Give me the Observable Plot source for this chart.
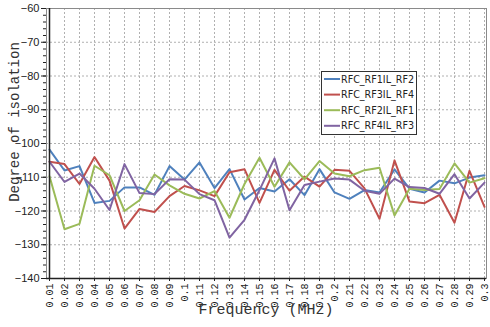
<!DOCTYPE html>
<html>
<head>
<meta charset="utf-8">
<script src="https://cdn.jsdelivr.net/npm/d3@7"></script>
<script src="https://cdn.jsdelivr.net/npm/@observablehq/plot@0.6"></script>
<style>
  html, body { margin: 0; padding: 0; background: #fff; }
  #chart { position: relative; width: 490px; height: 327px; }
</style>
</head>
<body>
<div id="chart"></div>
<script>
const freqLabels = ["0.01","0.02","0.03","0.04","0.05","0.06","0.07","0.08","0.09","0.1",
  "0.11","0.12","0.13","0.14","0.15","0.16","0.17","0.18","0.19","0.2",
  "0.21","0.22","0.23","0.24","0.25","0.26","0.27","0.28","0.29","0.3"];

const seriesNames = ["RFC_RF1IL_RF2", "RFC_RF3IL_RF4", "RFC_RF2IL_RF1", "RFC_RF4IL_RF3"];
const seriesColors = ["#4f81bd", "#c0504d", "#9bbb59", "#8064a2"];

const rf1_rf2 = [-101.8, -108, -106.7, -117.6, -117, -113, -113, -115.2, -106.7, -110.7,
  -105.6, -113.2, -107.6, -116.6, -113.2, -114.2, -110.6, -115.3, -107.6, -114.5,
  -116.4, -113.8, -114.5, -107.7, -113.4, -114.5, -111, -111.8, -110.1, -109.4];
const rf3_rf4 = [-105.4, -106.1, -112, -104, -111, -125.2, -119.4, -120.3, -115.6, -112.6,
  -113.9, -115.6, -108.5, -107.6, -117.6, -107.8, -114, -109.8, -112.8, -107.8,
  -108.1, -113.3, -122.3, -105, -117.2, -117.7, -115.2, -123.5, -108.1, -118.8];
const rf2_rf1 = [-109.7, -125.4, -123.8, -106.6, -109.4, -120, -116.8, -109.2, -112.4, -114.9,
  -116.3, -114.1, -122, -112, -104.2, -112.8, -105.6, -110.6, -105.2, -108.9,
  -109.7, -107.9, -107.2, -121.3, -113.4, -113.8, -113.5, -105.9, -111.6, -110.3];
const rf4_rf3 = [-105.4, -111.4, -108.9, -113.4, -119.7, -106.1, -114.7, -115, -110.6, -110.7,
  -115, -116.8, -127.9, -122.6, -113.8, -104.4, -119.8, -112.3, -111.3, -110.4,
  -110.7, -114, -114.9, -110.4, -112.9, -113.2, -114.9, -109.1, -116.3, -111.6];

const yMajorTicks = [-140, -130, -120, -110, -100, -90, -80, -70, -60];
const yMinorTicks = d3.range(-140, -59, 2);

const seriesValues = [rf1_rf2, rf3_rf4, rf2_rf1, rf4_rf3];
const rows = seriesNames.flatMap((name, i) =>
  seriesValues[i].map((v, j) => ({ series: name, freq: freqLabels[j], value: v })));

const monoFont = "'Liberation Mono', 'DejaVu Sans Mono', monospace";

const chart = Plot.plot({
  width: 490,
  height: 327,
  marginLeft: 46,
  marginRight: 4,
  marginTop: 8,
  marginBottom: 49,
  style: { fontFamily: "'Liberation Sans', Arial, sans-serif", fontSize: "11px", color: "#222", background: "#fff" },
  x: { type: "point", domain: freqLabels, padding: 0, label: null },
  y: { domain: [-140, -60], label: null },
  color: { domain: seriesNames, range: seriesColors },
  marks: [
    Plot.gridX({ stroke: "#b0b0b0", strokeOpacity: 1, strokeDasharray: "2,2" }),
    Plot.gridY(yMajorTicks, { stroke: "#b0b0b0", strokeOpacity: 1, strokeDasharray: "2,2" }),
    Plot.frame({ stroke: "#8a8a8a" }),
    Plot.lineY(rows, { x: "freq", y: "value", stroke: "series", strokeWidth: 2 }),
    Plot.ruleX([freqLabels[0]], { stroke: "#222", strokeWidth: 1.5 }),
    Plot.ruleY([-140], { stroke: "#222", strokeWidth: 1.5 }),
    Plot.axisY(yMinorTicks, { tickSize: 3, tickFormat: () => "", label: null }),
    Plot.axisY(yMajorTicks, { tickSize: 5, tickPadding: 2, label: null, fontSize: 11 }),
    Plot.axisX({ tickSize: 3, tickPadding: 2, tickRotate: -90, label: null, fontFamily: monoFont, fontSize: 10 })
  ]
});

document.getElementById("chart").appendChild(chart);

const svg = d3.select(chart);

// Axis titles
svg.append("text")
  .attr("x", 266).attr("y", 314)
  .attr("text-anchor", "middle")
  .attr("font-family", monoFont)
  .attr("font-size", 15)
  .attr("fill", "#333")
  .text("Frequency (MHz)");

svg.append("text")
  .attr("transform", "translate(19,122) rotate(-90)")
  .attr("text-anchor", "middle")
  .attr("font-family", monoFont)
  .attr("font-size", 14)
  .attr("fill", "#333")
  .text("Degree of isolation");

// Legend
const lg = svg.append("g").attr("text-anchor", "start");
lg.append("rect")
  .attr("x", 321.5).attr("y", 71.5).attr("width", 95).attr("height", 63)
  .attr("fill", "#ffffff").attr("fill-opacity", 1)
  .attr("stroke", "#333").attr("stroke-width", 1);
seriesNames.forEach((name, i) => {
  const y = 79 + i * 15.6;
  lg.append("line")
    .attr("x1", 324).attr("x2", 340).attr("y1", y).attr("y2", y)
    .attr("stroke", seriesColors[i]).attr("stroke-width", 2);
  lg.append("text")
    .attr("x", 341).attr("y", y).attr("dy", "0.35em")
    .attr("text-anchor", "start")
    .attr("font-family", "'Liberation Sans Narrow', 'DejaVu Sans Condensed', 'Liberation Sans', sans-serif")
    .attr("font-size", 10)
    .attr("fill", "#222")
    .attr("textLength", 73)
    .attr("lengthAdjust", "spacingAndGlyphs")
    .text(name);
});
</script>
</body>
</html>
